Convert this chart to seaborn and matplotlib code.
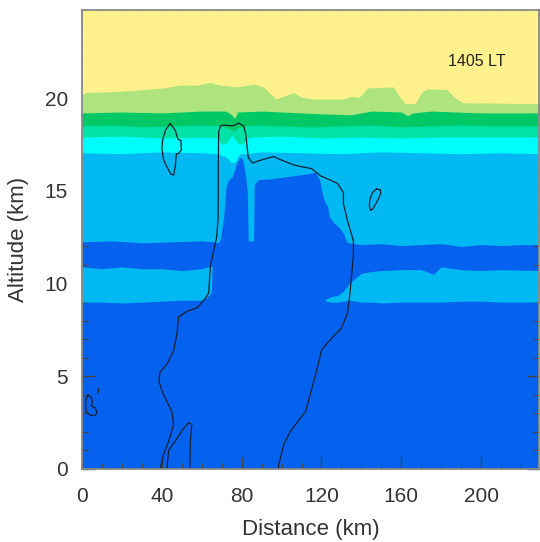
import numpy as np
import pandas as pd
import matplotlib
matplotlib.use("Agg")
import matplotlib.pyplot as plt
import seaborn as sns

# ---------------- data ----------------
# band boundaries: altitude (km) of the lower edge of each colour band vs distance (km)
yel_x = [0, 2, 16, 30, 41, 49, 58, 64, 69, 78, 86, 91, 97, 101, 106, 110, 116, 131, 135,
         139, 143, 156, 159, 162, 167, 170, 173, 183, 187, 191, 229]
yel_y = [20.2, 20.3, 20.35, 20.45, 20.55, 20.7, 20.7, 20.85, 20.7, 20.6, 20.75, 20.6, 19.95,
         20.1, 20.3, 20.05, 19.95, 19.95, 20.1, 20.05, 20.55, 20.6, 20.1, 19.7, 19.7, 20.3,
         20.5, 20.45, 20.0, 19.75, 19.7]

lgr_x = [0, 20, 40, 60, 72, 75, 76.5, 78, 90, 100, 120, 135, 145, 160, 163, 166, 175, 200, 229]
lgr_y = [19.2, 19.25, 19.2, 19.3, 19.3, 19.1, 18.9, 19.25, 19.3, 19.25, 19.15, 19.1, 19.3,
         19.25, 19.05, 19.2, 19.3, 19.2, 19.2]

grn_x = [0, 15, 30, 45, 60, 70, 74, 76, 78, 85, 100, 115, 130, 145, 160, 175, 190, 205, 229]
grn_y = [18.5, 18.55, 18.45, 18.5, 18.55, 18.5, 18.35, 18.2, 18.4, 18.55, 18.5, 18.45, 18.5,
         18.55, 18.45, 18.5, 18.55, 18.5, 18.5]

mint_x = [0, 20, 40, 60, 68, 70, 72.5, 75, 77, 79, 81, 84, 100, 120, 140, 160, 180, 200, 229]
mint_y = [17.9, 17.95, 17.85, 17.9, 17.85, 17.5, 17.6, 18.0, 17.7, 17.5, 17.6, 17.9, 17.95,
          17.85, 17.9, 17.85, 17.9, 17.9, 17.9]

cyan_x = [0, 20, 40, 60, 68, 70, 72, 75, 77, 79, 82, 90, 110, 130, 150, 170, 190, 210, 229]
cyan_y = [17.05, 17.0, 17.1, 17.05, 17.0, 16.9, 16.85, 16.5, 16.6, 17.0, 17.0, 17.1, 17.05,
          17.0, 17.1, 17.05, 17.0, 17.05, 17.0]

# upper light-blue region lower edge (blue band top / convective tower top)
ulb_x = [0, 15, 30, 45, 60, 66, 68.5, 69.3, 71, 72.2, 73.5, 75.5, 77.5, 79, 80.5, 82, 82.8,
         83.3, 86, 86.3, 88, 95, 105, 112, 117, 119, 120.5, 122, 123, 124, 126, 129, 131,
         132.5, 133, 140, 150, 160, 170, 180, 190, 200, 210, 220, 229]
ulb_y = [12.25, 12.3, 12.2, 12.25, 12.3, 12.25, 12.2, 12.4, 13.6, 15.2, 15.6, 15.8, 16.5,
         16.8, 16.7, 15.8, 15.0, 12.3, 12.3, 15.3, 15.6, 15.65, 15.8, 15.9, 16.0, 15.6, 14.8,
         14.3, 14.2, 13.6, 13.3, 13.0, 12.7, 12.3, 12.2, 12.1, 12.15, 12.05, 12.1, 12.15,
         12.0, 12.1, 12.05, 12.1, 12.1]

# lower light-blue band (left and right of the tower)
lbl_x = [0, 10, 20, 30, 40, 50, 60, 63, 64.8, 65.2]
lbl_lo = [9.0, 9.0, 8.95, 9.0, 9.05, 9.1, 9.1, 9.3, 9.5, 10.85]
lbl_hi = [10.9, 10.8, 10.9, 10.8, 10.8, 10.7, 10.8, 10.9, 10.95, 10.9]

lbr_x = [122, 125, 128, 131, 134, 137, 140, 145, 150, 160, 170, 176, 180, 190, 200, 210, 229]
lbr_lo = [9.05, 9.0, 9.0, 9.05, 9.1, 9.05, 9.0, 9.0, 8.95, 9.0, 9.0, 9.0, 9.0, 9.05, 9.05,
          9.0, 9.0]
lbr_hi = [9.15, 9.3, 9.35, 9.6, 10.0, 10.3, 10.55, 10.65, 10.7, 10.75, 10.75, 10.5, 10.9,
          10.75, 10.7, 10.75, 10.7]

# cloud outline contours (distance km, altitude km)
c1_x = [39.2, 40.9, 43.4, 45.9, 45.0, 40.7, 38.6, 39.0, 42.6, 45.9, 47.6, 48.4, 52.6, 57.8,
        61.8, 63.5, 64.3, 66.0, 67.5, 68.2, 68.3, 68.3, 68.5, 69.5, 71.0, 75.5, 78.5, 81.0,
        82.0, 82.8, 83.3, 85.4, 88.0, 91.0, 96.0, 99.0, 106.0, 110.0, 115.0, 119.6, 124.0,
        128.0, 131.0, 131.0, 133.0, 136.0, 136.0, 135.0, 134.0, 133.0, 130.0, 123.0, 120.0,
        118.0, 116.2, 112.0, 104.5, 101.2, 98.6, 98.3]
c1_y = [0.0, 0.8, 1.5, 2.4, 3.1, 4.05, 4.7, 5.2, 5.66, 6.38, 7.3, 8.2, 8.5, 8.7, 9.2, 9.5,
        10.9, 11.8, 12.5, 13.5, 15.0, 16.5, 18.2, 18.5, 18.55, 18.5, 18.65, 18.5, 18.1, 17.3,
        16.8, 16.5, 16.6, 16.7, 16.85, 16.7, 16.4, 16.3, 16.2, 15.8, 15.6, 15.4, 14.9, 14.3,
        13.4, 12.3, 11.5, 10.3, 9.2, 8.4, 7.6, 6.8, 6.4, 5.5, 4.75, 3.1, 2.05, 1.35, 0.25, 0.0]
c2_x = [44.2, 42.0, 40.5, 40.0, 40.8, 42.5, 44.5, 45.9, 46.7, 47.3, 48.3, 49.8, 49.6, 48.0,
        46.7, 44.2]
c2_y = [18.63, 18.3, 17.8, 17.3, 16.7, 16.3, 15.9, 15.85, 16.3, 17.0, 17.0, 17.2, 17.7, 17.8,
        18.27, 18.63]
c3_x = [147.5, 145.5, 144.2, 144.0, 144.6, 145.6, 147.2, 148.7, 149.7, 149.5, 147.5]
c3_y = [15.1, 14.9, 14.5, 14.2, 13.95, 14.0, 14.3, 14.6, 14.85, 15.05, 15.1]
c4_x = [3.0, 4.8, 5.2, 4.6, 6.5, 7.5, 6.8, 4.0, 2.2, 1.8, 2.3, 3.0]
c4_y = [4.0, 3.85, 3.6, 3.4, 3.3, 3.05, 2.9, 2.9, 3.1, 3.5, 3.85, 4.0]
c5_x = [8.0, 8.3]
c5_y = [4.1, 4.35]
c6_x = [42.5, 43.4, 46.7, 51.0, 53.4, 55.0, 54.3, 54.0]
c6_y = [0.0, 1.0, 1.5, 2.2, 2.5, 2.4, 1.5, 0.0]

label_text = "1405 LT"
x_ticks = [0, 40, 80, 120, 160, 200]
y_ticks = [0, 5, 10, 15, 20]

# ---------------- styling ----------------
sns.set_theme(style="ticks")
plt.rcParams["font.family"] = ["Liberation Sans", "DejaVu Sans"]

col_blue = "#0562EE"
col_lblue = "#00B8F2"
col_cyan = "#00FCFC"
col_mint = "#00E2A6"
col_green = "#00C864"
col_lgreen = "#AEE47E"
col_yellow = "#FFF28C"

XMAX, YMAX = 229, 24.75

fig = plt.figure(figsize=(5.4, 5.42), dpi=100)
ax = fig.add_axes([82 / 540, 1 - 469 / 542, 457 / 540, 459 / 542])
ax.set_facecolor(col_blue)

ax.fill_between(lbl_x, lbl_lo, lbl_hi, color=col_lblue, lw=0)
ax.fill_between(lbr_x, lbr_lo, lbr_hi, color=col_lblue, lw=0)
ax.fill_between(ulb_x, ulb_y, YMAX, color=col_lblue, lw=0)
ax.fill_between(cyan_x, cyan_y, YMAX, color=col_cyan, lw=0)
ax.fill_between(mint_x, mint_y, YMAX, color=col_mint, lw=0)
ax.fill_between(grn_x, grn_y, YMAX, color=col_green, lw=0)
ax.fill_between(lgr_x, lgr_y, YMAX, color=col_lgreen, lw=0)
ax.fill_between(yel_x, yel_y, YMAX, color=col_yellow, lw=0)

for cx, cy in [(c1_x, c1_y), (c2_x, c2_y), (c3_x, c3_y), (c4_x, c4_y), (c5_x, c5_y),
               (c6_x, c6_y)]:
    df = pd.DataFrame({"d": cx, "a": cy})
    sns.lineplot(data=df, x="d", y="a", sort=False, estimator=None, ax=ax,
                 color="#142030", lw=0.9)

ax.text(198, 21.97, label_text, ha="center", va="center", fontsize=11.5, color="#222222")

ax.set_xlim(0, XMAX)
ax.set_ylim(0, YMAX)
ax.set_xticks(x_ticks)
ax.set_yticks(y_ticks)
ax.xaxis.set_minor_locator(matplotlib.ticker.MultipleLocator(10))
ax.yaxis.set_minor_locator(matplotlib.ticker.MultipleLocator(1))
ax.tick_params(which="both", direction="in", top=True, right=True, color="#444444",
               labelcolor="#333333", labelsize=15)
ax.tick_params(which="major", length=9, width=1.0)
ax.tick_params(which="minor", length=4.5, width=0.8)
ax.tick_params(axis="x", which="major", pad=13)
ax.tick_params(axis="y", which="major", pad=10)
ax.set_xlabel("Distance (km)", fontsize=16, color="#333333", labelpad=9)
ax.set_ylabel("Altitude (km)", fontsize=16, color="#333333", labelpad=11)
for s in ax.spines.values():
    s.set_color("#8a8a8a")
    s.set_linewidth(1.3)
    s.set_zorder(5)

fig.savefig("out.png", dpi=100)
